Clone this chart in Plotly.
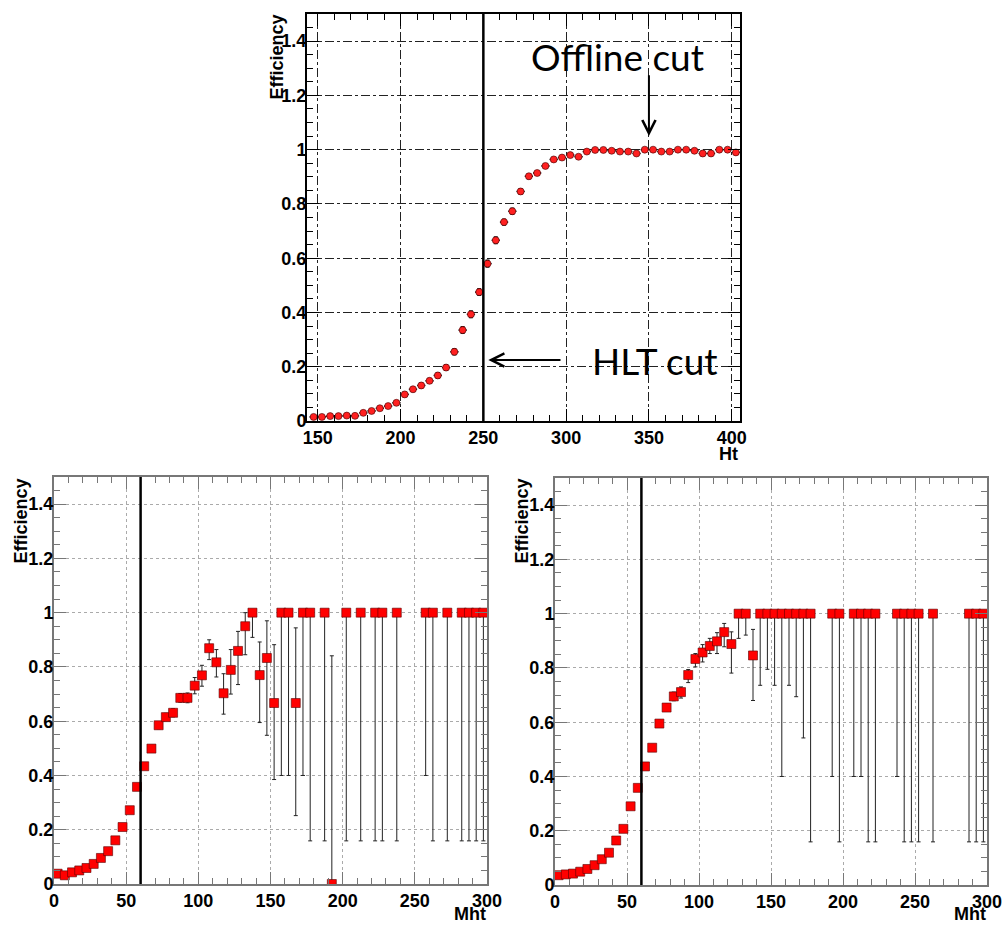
import plotly.graph_objects as go

# ---------------- data ----------------
ht_x = [147.5, 152.5, 157.5, 162.5, 167.5, 172.5, 177.5, 182.5, 187.5, 192.5,
        197.5, 202.5, 207.5, 212.5, 217.5, 222.5, 227.5, 232.5, 237.5, 242.5,
        247.5, 252.5, 257.5, 262.5, 267.5, 272.5, 277.5, 282.5, 287.5, 292.5,
        297.5, 302.5, 307.5, 312.5, 317.5, 322.5, 327.5, 332.5, 337.5, 342.5,
        347.5, 352.5, 357.5, 362.5, 367.5, 372.5, 377.5, 382.5, 387.5, 392.5,
        397.5, 402.5]
ht_eff = [0.015, 0.015, 0.018, 0.018, 0.020, 0.019, 0.030, 0.037, 0.047, 0.055,
          0.067, 0.098, 0.117, 0.131, 0.148, 0.168, 0.197, 0.255, 0.335, 0.393,
          0.475, 0.580, 0.666, 0.733, 0.773, 0.846, 0.902, 0.914, 0.940, 0.964,
          0.971, 0.980, 0.974, 0.993, 0.999, 0.999, 0.996, 0.993, 0.993, 0.986,
          1.000, 1.000, 0.993, 0.993, 1.000, 1.000, 0.996, 0.986, 0.986, 1.000,
          1.000, 0.990]
ht_err = [0.004, 0.004, 0.004, 0.004, 0.004, 0.004, 0.005, 0.005, 0.006, 0.006,
          0.007, 0.008, 0.008, 0.009, 0.009, 0.010, 0.010, 0.011, 0.012, 0.012,
          0.012, 0.012, 0.012, 0.011, 0.011, 0.010, 0.009, 0.008, 0.008, 0.007,
          0.006, 0.006, 0.006, 0.005, 0.004, 0.004, 0.004, 0.005, 0.005, 0.006,
          0.004, 0.004, 0.006, 0.006, 0.004, 0.004, 0.005, 0.008, 0.008, 0.005,
          0.005, 0.008]

mhtL_x = [2.5, 7.5, 12.5, 17.5, 22.5, 27.5, 32.5, 37.5, 42.5, 47.5,
          52.5, 57.5, 62.5, 67.5, 72.5, 77.5, 82.5, 87.5, 92.5, 97.5,
          102.5, 107.5, 112.5, 117.5, 122.5, 127.5, 132.5, 137.5, 142.5, 147.5,
          152.5, 157.5, 162.5, 167.5, 172.5, 177.5, 187.5, 192.5, 202.5, 212.5,
          222.5, 227.5, 237.5, 257.5, 262.5, 272.5, 282.5, 287.5, 292.5, 297.5]
mhtL_eff = [0.038, 0.032, 0.043, 0.050, 0.059, 0.074, 0.096, 0.121, 0.161, 0.210,
            0.272, 0.358, 0.434, 0.499, 0.585, 0.615, 0.631, 0.686, 0.686, 0.731,
            0.769, 0.869, 0.817, 0.703, 0.789, 0.859, 0.950, 1.000, 0.770, 0.833,
            0.667, 1.000, 1.000, 0.667, 1.000, 1.000, 1.000, 0.000, 1.000, 1.000,
            1.000, 1.000, 1.000, 1.000, 1.000, 1.000, 1.000, 1.000, 1.000, 1.000]
mhtL_up = [0.004, 0.004, 0.004, 0.005, 0.005, 0.006, 0.006, 0.007, 0.008, 0.009,
           0.010, 0.011, 0.012, 0.012, 0.013, 0.014, 0.015, 0.016, 0.018, 0.030,
           0.037, 0.031, 0.047, 0.072, 0.075, 0.072, 0.050, 0.000, 0.122, 0.137,
           0.215, 0.000, 0.000, 0.277, 0.000, 0.000, 0.000, 0.841, 0.000, 0.000,
           0.000, 0.000, 0.000, 0.000, 0.000, 0.000, 0.000, 0.000, 0.000, 0.000]
mhtL_dn = [0.004, 0.004, 0.004, 0.005, 0.005, 0.006, 0.006, 0.007, 0.008, 0.009,
           0.010, 0.011, 0.012, 0.012, 0.013, 0.014, 0.015, 0.016, 0.018, 0.030,
           0.040, 0.042, 0.054, 0.077, 0.089, 0.124, 0.105, 0.091, 0.175, 0.285,
           0.282, 0.600, 0.600, 0.415, 0.600, 0.841, 0.841, 0.000, 0.841, 0.841,
           0.841, 0.841, 0.841, 0.600, 0.841, 0.841, 0.841, 0.841, 0.841, 0.841]

mhtR_x = [2.5, 7.5, 12.5, 17.5, 22.5, 27.5, 32.5, 37.5, 42.5, 47.5,
          52.5, 57.5, 62.5, 67.5, 72.5, 77.5, 82.5, 87.5, 92.5, 97.5,
          102.5, 107.5, 112.5, 117.5, 122.5, 127.5, 132.5, 137.5, 142.5, 147.5,
          152.5, 157.5, 162.5, 167.5, 172.5, 177.5, 192.5, 197.5, 207.5, 212.5,
          217.5, 222.5, 237.5, 242.5, 247.5, 252.5, 262.5, 287.5, 292.5, 297.5]
mhtR_eff = [0.036, 0.039, 0.042, 0.049, 0.059, 0.073, 0.095, 0.119, 0.164, 0.207,
            0.290, 0.358, 0.437, 0.506, 0.595, 0.654, 0.695, 0.711, 0.774, 0.833,
            0.857, 0.881, 0.898, 0.932, 0.888, 1.000, 1.000, 0.846, 1.000, 1.000,
            1.000, 1.000, 1.000, 1.000, 1.000, 1.000, 1.000, 1.000, 1.000, 1.000,
            1.000, 1.000, 1.000, 1.000, 1.000, 1.000, 1.000, 1.000, 1.000, 1.000]
mhtR_up = [0.004, 0.004, 0.004, 0.005, 0.005, 0.006, 0.006, 0.007, 0.008, 0.009,
           0.010, 0.011, 0.012, 0.012, 0.013, 0.014, 0.016, 0.019, 0.020, 0.020,
           0.029, 0.028, 0.032, 0.032, 0.045, 0.000, 0.000, 0.096, 0.000, 0.000,
           0.000, 0.000, 0.000, 0.000, 0.000, 0.000, 0.000, 0.000, 0.000, 0.000,
           0.000, 0.000, 0.000, 0.000, 0.000, 0.000, 0.000, 0.000, 0.000, 0.000]
mhtR_dn = [0.004, 0.004, 0.004, 0.005, 0.005, 0.006, 0.006, 0.007, 0.008, 0.009,
           0.010, 0.011, 0.012, 0.012, 0.013, 0.014, 0.016, 0.022, 0.028, 0.029,
           0.035, 0.028, 0.045, 0.054, 0.107, 0.091, 0.079, 0.166, 0.264, 0.205,
           0.264, 0.600, 0.264, 0.306, 0.458, 0.841, 0.600, 0.841, 0.600, 0.600,
           0.841, 0.841, 0.600, 0.841, 0.841, 0.841, 0.841, 0.841, 0.841, 0.841]

bin_half = [2.5]
ht_cut = 250
mht_cut = 60

# ---------------- figure ----------------
W, H = 1002, 926
fig = go.Figure()

LAB = dict(family="Liberation Sans, Arial, sans-serif", size=18, color="black", weight="bold")

fig.add_trace(go.Scatter(
    x=ht_x, y=ht_eff, mode="markers", xaxis="x", yaxis="y",
    marker=dict(symbol="circle", size=7, color="#ff2020", line=dict(color="#400000", width=0.6)),
    error_x=dict(type="constant", value=bin_half[0], color="#111", thickness=1.5, width=0),
    error_y=dict(type="data", array=ht_err, color="#111", thickness=1.5, width=2),
    showlegend=False))

fig.add_trace(go.Scatter(
    x=mhtL_x, y=mhtL_eff, mode="markers", xaxis="x2", yaxis="y2",
    marker=dict(symbol="square", size=9, color="#ff0000", line=dict(color="#5a0000", width=0.6)),
    error_x=dict(type="constant", value=bin_half[0], color="#222", thickness=1, width=0),
    error_y=dict(type="data", symmetric=False, array=mhtL_up, arrayminus=mhtL_dn,
                 color="#222", thickness=1, width=2),
    showlegend=False))

fig.add_trace(go.Scatter(
    x=mhtR_x, y=mhtR_eff, mode="markers", xaxis="x3", yaxis="y3",
    marker=dict(symbol="square", size=9, color="#ff0000", line=dict(color="#5a0000", width=0.6)),
    error_x=dict(type="constant", value=bin_half[0], color="#222", thickness=1, width=0),
    error_y=dict(type="data", symmetric=False, array=mhtR_up, arrayminus=mhtR_dn,
                 color="#222", thickness=1, width=2),
    showlegend=False))


def px_dom_x(a, b):
    return [a / W, b / W]


def px_dom_y(top, bottom):
    return [1 - bottom / H, 1 - top / H]


def xax(dom, rng, anchor, line, grid, gdash, dtick, minor):
    return dict(domain=dom, range=rng, anchor=anchor, dtick=dtick, tick0=0,
                showline=True, linecolor=line, linewidth=2, mirror="ticks",
                ticks="inside", ticklen=12, tickwidth=1, tickcolor=line,
                minor=dict(dtick=minor, ticks="inside", ticklen=6, tickcolor=line, showgrid=False),
                showgrid=True, gridcolor=grid, griddash=gdash, gridwidth=1,
                zeroline=False, tickfont=LAB, ticklabelstandoff=-1,
                ticklabeloverflow="allow", automargin=False)


def yax(dom, anchor, line, grid, gdash):
    return dict(domain=dom, range=[0, 1.5], anchor=anchor, dtick=0.2, tick0=0,
                showline=True, linecolor=line, linewidth=2, mirror="ticks",
                ticks="inside", ticklen=12, tickwidth=1, tickcolor=line,
                minor=dict(dtick=0.05, ticks="inside", ticklen=6, tickcolor=line, showgrid=False),
                showgrid=True, gridcolor=grid, griddash=gdash, gridwidth=1,
                zeroline=False, tickfont=LAB, ticklabelstandoff=-5,
                ticklabeloverflow="allow", automargin=False)


fig.update_layout(
    width=W, height=H, autosize=False, margin=dict(l=0, r=0, t=0, b=0, pad=0),
    paper_bgcolor="white", plot_bgcolor="white",
    xaxis=xax(px_dom_x(307, 740), [143.5, 405], "y", "black", "#222", "dashdot", 50, 10),
    yaxis=yax(px_dom_y(14, 421), "x", "black", "#222", "dashdot"),
    xaxis2=xax(px_dom_x(54, 487), [0, 300], "y2", "#777", "#aaa", "dot", 50, 10),
    yaxis2=yax(px_dom_y(477, 884), "x2", "#777", "#aaa", "dot"),
    xaxis3=xax(px_dom_x(555, 987), [0, 300], "y3", "#777", "#aaa", "dot", 50, 10),
    yaxis3=yax(px_dom_y(478, 885), "x3", "#777", "#aaa", "dot"),
)

# cut lines
fig.add_shape(type="line", xref="x", yref="y domain", x0=ht_cut, x1=ht_cut, y0=0, y1=1,
              line=dict(color="black", width=2.5))
fig.add_shape(type="line", xref="x2", yref="y2 domain", x0=mht_cut, x1=mht_cut, y0=0, y1=1,
              line=dict(color="black", width=2.5))
fig.add_shape(type="line", xref="x3", yref="y3 domain", x0=mht_cut, x1=mht_cut, y0=0, y1=1,
              line=dict(color="black", width=2.5))

# axis titles
TIT = dict(family="Liberation Sans, Arial, sans-serif", size=18, color="black", weight="bold")
ann = []
ann.append(dict(text="Efficiency", x=276 / W, y=1 - 13 / H, xref="paper", yref="paper",
                xanchor="center", yanchor="top", textangle=-90, showarrow=False, font=TIT))
ann.append(dict(text="Efficiency", x=20 / W, y=1 - 477 / H, xref="paper", yref="paper",
                xanchor="center", yanchor="top", textangle=-90, showarrow=False, font=TIT))
ann.append(dict(text="Efficiency", x=521 / W, y=1 - 477 / H, xref="paper", yref="paper",
                xanchor="center", yanchor="top", textangle=-90, showarrow=False, font=TIT))
ann.append(dict(text="Ht", x=740 / W, y=1 - 454 / H, xref="paper", yref="paper",
                xanchor="right", yanchor="middle", showarrow=False, font=TIT))
ann.append(dict(text="Mht", x=488 / W, y=1 - 914 / H, xref="paper", yref="paper",
                xanchor="right", yanchor="middle", showarrow=False, font=TIT))
ann.append(dict(text="Mht", x=988 / W, y=1 - 914 / H, xref="paper", yref="paper",
                xanchor="right", yanchor="middle", showarrow=False, font=TIT))

# cut labels and arrows
CUT = dict(family="Lato, Open Sans, sans-serif", size=37, color="black")
ann.append(dict(text="Offline cut", x=617 / W, y=1 - 57 / H, xref="paper", yref="paper",
                xanchor="center", yanchor="middle", showarrow=False, font=CUT))
ann.append(dict(text="HLT cut", x=655 / W, y=1 - 360 / H, xref="paper", yref="paper",
                xanchor="center", yanchor="middle", showarrow=False, font=CUT))
ann.append(dict(text="", x=350, y=1.05, xref="x", yref="y", ax=350, ay=1.28,
                axref="x", ayref="y", showarrow=True, arrowhead=5, arrowsize=1.3,
                arrowwidth=2, arrowcolor="black"))
ann.append(dict(text="", x=253, y=0.225, xref="x", yref="y", ax=297.5, ay=0.225,
                axref="x", ayref="y", showarrow=True, arrowhead=5, arrowsize=1.3,
                arrowwidth=2, arrowcolor="black"))
fig.update_layout(annotations=ann)

fig.write_html("out.html", config={"responsive": False})
